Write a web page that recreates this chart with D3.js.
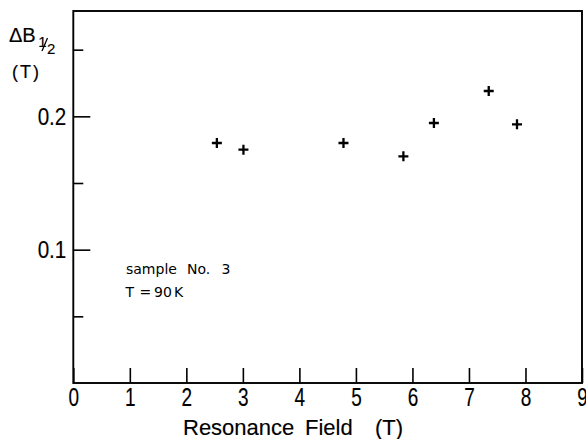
<!DOCTYPE html>
<html>
<head>
<meta charset="utf-8">
<script src="https://cdn.jsdelivr.net/npm/d3@7"></script>
<style>
  html, body { margin: 0; padding: 0; background: #fff; }
  svg { display: block; }
  text { fill: #000; }
</style>
</head>
<body>
<div id="chart"></div>
<script>
// ---- data ----
const resonanceField = [2.54, 3.01, 4.78, 5.84, 6.38, 7.35, 7.85];   // T
const linewidth      = [0.180, 0.175, 0.180, 0.170, 0.195, 0.219, 0.194]; // ΔB1/2 (T)
const xTicks = [0, 1, 2, 3, 4, 5, 6, 7, 8, 9];
const yMajorTicks = [0.1, 0.2];
const yMinorTicks = [0.05, 0.15, 0.25];
const xDomain = [0, 9];
const yDomain = [0, 0.279];
const annotationLines = ["sample No. 3", "T = 90 K"];

(function () {
// ---- layout ----
const W = 586, H = 439;
const plotL = 73.3, plotR = 582, plotT = 11, plotB = 383;

const svg = d3.select("#chart").append("svg")
  .attr("width", W).attr("height", H);

const x = d3.scaleLinear().domain(xDomain).range([plotL, plotR]);
const y = d3.scaleLinear().domain(yDomain).range([plotB, plotT]);

const font = "'Liberation Sans', Arial, sans-serif";
const heavy = sel => sel.attr("stroke", "#000").attr("stroke-width", 0.15);

// frame
svg.append("rect")
  .attr("x", plotL).attr("y", plotT)
  .attr("width", plotR - plotL).attr("height", plotB - plotT)
  .attr("fill", "none").attr("stroke", "#000").attr("stroke-width", 1.9);

// x axis (ticks inward)
const gx = svg.append("g")
  .attr("transform", `translate(0,${plotB})`)
  .call(d3.axisBottom(x).tickValues(xTicks).tickFormat(d3.format("d"))
    .tickSizeInner(-15).tickSizeOuter(0).tickPadding(5));
gx.select(".domain").remove();
gx.selectAll(".tick line").attr("stroke", "#000").attr("stroke-width", 1.6);
gx.selectAll(".tick text")
  .attr("font-family", font).attr("font-size", 25).attr("fill", "#000")
  .attr("transform", "scale(0.76,1)")
  .call(heavy);

// y axis major ticks
const sy = 0.86;
const gy = svg.append("g")
  .attr("transform", `translate(${plotL},0)`)
  .call(d3.axisLeft(y).tickValues(yMajorTicks).tickFormat(d3.format(".1f"))
    .tickSizeInner(-17).tickSizeOuter(0).tickPadding(7));
gy.select(".domain").remove();
gy.selectAll(".tick line").attr("stroke", "#000").attr("stroke-width", 1.6);
gy.selectAll(".tick text")
  .attr("font-family", font).attr("font-size", 24).attr("fill", "#000")
  .attr("x", -7 / sy)
  .attr("transform", `scale(${sy},1)`)
  .call(heavy);

// y axis minor ticks
const gym = svg.append("g")
  .attr("transform", `translate(${plotL},0)`)
  .call(d3.axisLeft(y).tickValues(yMinorTicks).tickFormat("")
    .tickSizeInner(-10).tickSizeOuter(0));
gym.select(".domain").remove();
gym.selectAll(".tick line").attr("stroke", "#000").attr("stroke-width", 1.6);

// data markers: plus signs
const pts = resonanceField.map((v, i) => [v, linewidth[i]]);
svg.append("g").selectAll("path")
  .data(pts).enter().append("path")
  .attr("transform", d => `translate(${x(d[0])},${y(d[1])})`)
  .attr("d", "M-5,0H5M0,-5V5")
  .attr("stroke", "#000").attr("stroke-width", 2.3).attr("fill", "none");

// x axis title
const xt = svg.append("text")
  .attr("y", 435)
  .attr("font-family", font).attr("font-size", 22)
  .call(heavy);
xt.append("tspan").attr("x", 183).text("Resonance");
xt.append("tspan").attr("x", 305).text("Field");
xt.append("tspan").attr("x", 375).text("(T)");

// y axis title: ΔB½ (T)
svg.append("text")
  .attr("x", 9).attr("y", 41.7)
  .attr("font-family", font).attr("font-size", 20)
  .call(heavy)
  .text("ΔB");
svg.append("text").attr("x", 38.3).attr("y", 46.5)
  .attr("font-family", font).attr("font-size", 15).call(heavy).text("1");
svg.append("line")
  .attr("x1", 42).attr("y1", 51).attr("x2", 47.5).attr("y2", 38)
  .attr("stroke", "#000").attr("stroke-width", 1.3);
svg.append("text").attr("x", 47).attr("y", 53.5)
  .attr("font-family", font).attr("font-size", 15).call(heavy).text("2");
svg.append("text")
  .attr("x", 12).attr("y", 77.7)
  .attr("font-family", font).attr("font-size", 18)
  .attr("letter-spacing", 2)
  .call(heavy)
  .text("(T)");

// annotation
const ann = svg.append("g")
  .attr("font-family", "'DejaVu Sans', sans-serif").attr("font-size", 14);
const a1 = ann.append("text").attr("y", 274);
const parts1 = annotationLines[0].split(" ");
const xs1 = [126, 187, 221.5];
parts1.forEach((p, i) => a1.append("tspan").attr("x", xs1[i]).text(p));
const a2 = ann.append("text").attr("y", 297);
const parts2 = annotationLines[1].split(" ");
const xs2 = [125.5, 139.5, 154, 174];
parts2.forEach((p, i) => a2.append("tspan").attr("x", xs2[i]).text(p));
})();
</script>
</body>
</html>
